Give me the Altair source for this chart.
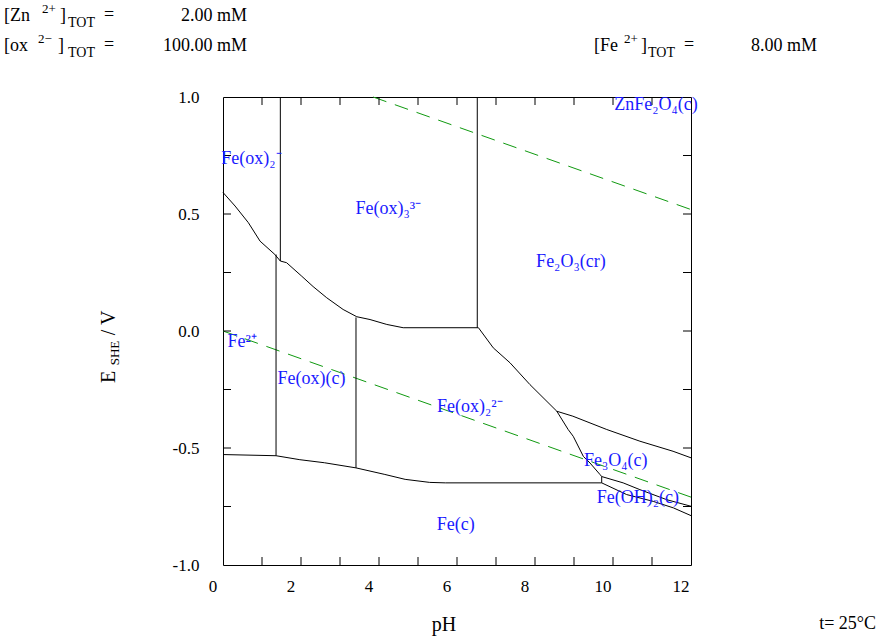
import altair as alt
import pandas as pd

FONT = "Liberation Serif"
W, H = 468, 468          # plot area (square)
OX, OY = 223, 97         # plot origin on the page

# ---------------- data ----------------
# phase boundaries (pH, E/V)
main_ph = [0.00, 0.31, 0.65, 0.95, 1.33, 1.47, 1.63, 2.02, 2.31, 2.66, 3.08, 3.43, 3.77, 4.20, 4.62, 6.55, 6.93, 7.36, 7.87, 8.56]
main_e = [0.592, 0.534, 0.463, 0.384, 0.327, 0.299, 0.292, 0.234, 0.190, 0.142, 0.092, 0.061, 0.049, 0.028, 0.014, 0.014, -0.072, -0.136, -0.229, -0.343]
upper_vert_ph = [1.47, 1.47]
upper_vert_e = [1.0, 0.299]
lower_vert_ph = [1.36, 1.36]
lower_vert_e = [0.327, -0.533]
mid_vert_ph = [3.41, 3.41]
mid_vert_e = [0.058, -0.585]
right_vert_ph = [6.52, 6.52]
right_vert_e = [1.0, 0.014]
bottom_ph = [0.00, 1.36, 1.97, 2.60, 3.41, 4.15, 4.67, 5.30, 5.70, 9.71]
bottom_e = [-0.528, -0.533, -0.550, -0.563, -0.585, -0.613, -0.634, -0.647, -0.649, -0.649]
diag_ph = [8.56, 8.85, 8.98, 9.24, 9.41, 9.67, 9.71, 9.71]
diag_e = [-0.343, -0.421, -0.450, -0.536, -0.564, -0.614, -0.622, -0.649]
hema_ph = [8.56, 8.97, 9.84, 10.69, 11.54, 12.0]
hema_e = [-0.343, -0.364, -0.421, -0.471, -0.514, -0.542]
mag_ph = [9.71, 10.26, 10.69, 11.38, 12.0]
mag_e = [-0.622, -0.649, -0.678, -0.721, -0.749]
fe_ph = [9.71, 10.35, 11.03, 11.55, 12.0]
fe_e = [-0.649, -0.699, -0.728, -0.756, -0.789]

# water stability limits (dashed)
o2_ph = [3.85, 12.0]
o2_e = [1.0, 0.519]
h2_ph = [0.0, 12.0]
h2_e = [0.0, -0.710]

# species labels
label_text = ["ZnFe₂O₄(c)", "Fe(ox)₂⁻", "Fe(ox)₃³⁻", "Fe₂O₃(cr)", "Fe²⁺",
              "Fe(ox)(c)", "Fe(ox)₂²⁻", "Fe₃O₄(c)", "Fe(OH)₂(c)", "Fe(c)"]
label_ph = [11.10, 0.73, 4.24, 8.92, 0.49, 2.27, 6.33, 10.07, 10.64, 5.97]
label_e = [0.964, 0.735, 0.520, 0.297, -0.045, -0.207, -0.323, -0.557, -0.712, -0.828]

# axes
x_labels = [0, 2, 4, 6, 8, 10, 12]
y_labels = [-1.0, -0.5, 0.0, 0.5, 1.0]
x_ticks = [1, 2, 3, 4, 5, 6, 7, 8, 9, 10, 11]
y_ticks = [-0.75, -0.5, -0.25, 0.0, 0.25, 0.5, 0.75]

# ---------------- tables ----------------
segments = [
    ("main", main_ph, main_e), ("uv", upper_vert_ph, upper_vert_e),
    ("lv", lower_vert_ph, lower_vert_e), ("mv", mid_vert_ph, mid_vert_e),
    ("rv", right_vert_ph, right_vert_e), ("bottom", bottom_ph, bottom_e),
    ("diag", diag_ph, diag_e), ("hema", hema_ph, hema_e),
    ("mag", mag_ph, mag_e), ("fe", fe_ph, fe_e),
]
rows = []
for name, phs, es in segments:
    for i, (p, e) in enumerate(zip(phs, es)):
        rows.append({"seg": name, "i": i, "ph": p, "e": e})
lines_df = pd.DataFrame(rows)

wrows = []
for name, phs, es in [("o2", o2_ph, o2_e), ("h2", h2_ph, h2_e)]:
    for i, (p, e) in enumerate(zip(phs, es)):
        wrows.append({"seg": name, "i": i, "ph": p, "e": e})
water_df = pd.DataFrame(wrows)

labels_df = pd.DataFrame({"t": label_text, "ph": label_ph, "e": label_e})
xt_df = pd.DataFrame({"ph": x_ticks})
yt_df = pd.DataFrame({"e": y_ticks})
xl_df = pd.DataFrame({"ph": x_labels, "t": [str(v) for v in x_labels]})

# ---------------- scales / axes ----------------
xs = alt.Scale(domain=[0, 12], nice=False, zero=False)
ys = alt.Scale(domain=[-1, 1], nice=False, zero=False)
yax = alt.Axis(title=None, values=y_labels, ticks=False, domain=False, grid=False,
               labelPadding=24, labelFontSize=17, labelFont=FONT, labelColor="black",
               labelExpr="replace(format(datum.value, '.1f'), '\u2212', '-')")

X = alt.X("ph:Q", scale=xs, axis=None)
Y = alt.Y("e:Q", scale=ys, axis=yax)

boundaries = alt.Chart(lines_df).mark_line(color="black", strokeWidth=1).encode(
    x=X, y=Y, detail="seg:N", order="i:Q")

water = alt.Chart(water_df).mark_line(color="#109a10", strokeWidth=1, strokeDash=[14, 9]).encode(
    x=X, y=Y, detail="seg:N", order="i:Q")

species = alt.Chart(labels_df).mark_text(color="#1a1aff", font=FONT, fontSize=18).encode(
    x=X, y=Y, text="t:N")

x_tick_labels = alt.Chart(xl_df).mark_text(font=FONT, fontSize=17, color="black", dx=-10).encode(
    x=X, y=alt.value(H + 22), text="t:N")

TL = 8
xt_bottom = alt.Chart(xt_df).mark_rule(color="black", strokeWidth=1).encode(
    x=X, y=alt.value(H - TL), y2=alt.value(H))
xt_top = alt.Chart(xt_df).mark_rule(color="black", strokeWidth=1).encode(
    x=X, y=alt.value(0), y2=alt.value(TL))
yt_left = alt.Chart(yt_df).mark_rule(color="black", strokeWidth=1).encode(
    y=Y, x=alt.value(0), x2=alt.value(TL))
yt_right = alt.Chart(yt_df).mark_rule(color="black", strokeWidth=1).encode(
    y=Y, x=alt.value(W - TL), x2=alt.value(W))


def annot(text, ax, ay, size=18, align="left", angle=0, baseline="middle"):
    return alt.Chart(pd.DataFrame({"t": [text]})).mark_text(
        font=FONT, fontSize=size, align=align, baseline=baseline, angle=angle, color="black"
    ).encode(x=alt.value(ax - OX), y=alt.value(ay - OY), text="t:N")


texts = [
    # [Zn2+]TOT = 2.00 mM
    annot("[Zn", 4, 16), annot("2+", 42, 9, 13), annot("]", 60, 16),
    annot("TOT", 68, 23, 14), annot("=", 104, 15), annot("2.00 mM", 247, 16, align="right"),
    # [ox2-]TOT = 100.00 mM
    annot("[ox", 4, 46), annot("2−", 38, 39, 13), annot("]", 58, 46),
    annot("TOT", 68, 53, 14), annot("=", 104, 45), annot("100.00 mM", 247, 46, align="right"),
    # [Fe2+]TOT = 8.00 mM
    annot("[Fe", 594, 46), annot("2+", 624, 39, 13), annot("]", 641, 46),
    annot("TOT", 648, 53, 14), annot("=", 684, 45), annot("8.00 mM", 817, 46, align="right"),
    # axis titles
    annot("pH", 444, 625, 20, align="center"),
    annot("E", 109, 377, 20, align="center", angle=270),
    annot("SHE", 115, 353, 13, align="center", angle=270),
    annot("/ V", 109, 323, 20, align="center", angle=270),
    # temperature
    annot("t= 25°C", 876, 624, 18, align="right"),
]

chart = alt.layer(
    water, boundaries, xt_bottom, xt_top, yt_left, yt_right, species, x_tick_labels, *texts
).properties(
    width=W, height=H,
    padding={"left": OX, "top": OY, "right": 880 - OX - W, "bottom": 642 - OY - H},
    autosize=alt.AutoSizeParams(type="none"),
    background="white",
).configure_view(stroke="black", strokeWidth=1)

chart.save("out.html", embed_options={"renderer": "svg", "actions": False})
